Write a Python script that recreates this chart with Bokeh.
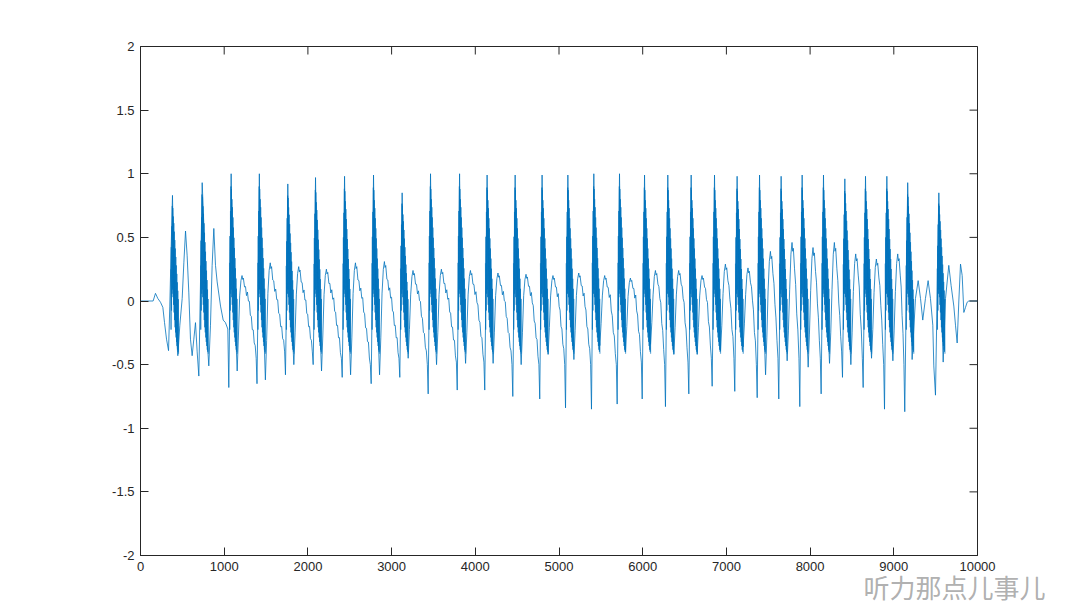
import numpy as np
from bokeh.plotting import figure
from bokeh.models import FixedTicker, NumeralTickFormatter, Range1d, Title
from bokeh.embed import file_html
from bokeh.resources import INLINE

# ---------------- data ----------------
# irregular onset (sample index, amplitude)
lead_x = [0, 151, 179, 207, 239, 267, 287, 311, 335, 350, 366, 382, 390, 398, 418,
          446, 470, 498, 518, 538, 557, 577, 597, 617, 637, 657, 677, 697, 717, 737,
          757, 776, 796, 816, 836, 856, 876, 896, 916, 956, 988, 1015, 1043]
lead_y = [0.0, 0.0, 0.06, 0.02, -0.01, -0.05, -0.17, -0.30, -0.39, -0.04, 0.41, 0.83,
          0.54, 0.20, -0.17, -0.43, -0.19, 0.02, 0.30, 0.55, 0.36, 0.07, -0.30, -0.43,
          -0.30, -0.17, -0.40, -0.59, 0.15, 0.93, 0.59, 0.07, -0.30, -0.51, -0.19, 0.28,
          0.57, 0.28, 0.15, -0.04, -0.15, -0.17, -0.22]
lead_spike_x = [382, 737]
lead_spike_y = [0.83, 0.93]

# regular pitch periods: position of the deep trough that starts each period
trough_x = [1055, 1392, 1732, 2063, 2410, 2756, 3098, 3437, 3784, 4113, 4448, 4770,
            5078, 5388, 5695, 5994, 6272, 6551, 6830, 7100, 7368, 7626, 7877, 8132,
            8387, 8634, 8889]
trough_y = [-0.68, -0.65, -0.58, -0.50, -0.60, -0.65, -0.60, -0.73, -0.70, -0.70,
            -0.75, -0.77, -0.84, -0.85, -0.81, -0.77, -0.83, -0.73, -0.67, -0.71,
            -0.76, -0.77, -0.83, -0.73, -0.60, -0.68, -0.85]
peak_y = [1.00, 1.00, 0.92, 0.97, 0.98, 0.99, 0.85, 1.00, 1.00, 0.99, 0.99, 0.99,
          0.99, 1.00, 1.00, 0.99, 0.99, 0.99, 0.99, 0.98, 0.99, 0.98, 0.99, 0.99,
          0.96, 0.98, 0.98]
dip_y = [-0.55, -0.62, -0.50, -0.55, -0.58, -0.58, -0.45, -0.50, -0.49, -0.49,
         -0.50, -0.42, -0.46, -0.35, -0.40, -0.34, -0.42, -0.42, -0.39, -0.36,
         -0.58, -0.47, -0.52, -0.49, -0.50, -0.45, -0.47]
bump_y = [0.20, 0.30, 0.27, 0.25, 0.30, 0.31, 0.24, 0.25, 0.24, 0.22, 0.21, 0.20,
          0.22, 0.20, 0.18, 0.24, 0.24, 0.20, 0.29, 0.26, 0.39, 0.46, 0.42, 0.46,
          0.37, 0.33, 0.37]
late_y = [-0.45, -0.40, -0.40, -0.45, -0.50, -0.45, -0.50, -0.48, -0.48, -0.50,
          -0.50, -0.50, -0.50, -0.50, -0.48, -0.50, -0.48, -0.45, -0.45, -0.50,
          -0.45, -0.45, -0.45, -0.40, -0.45, -0.50, -0.50]

# decaying end of the utterance
tail_x = [9131, 9166, 9190, 9219, 9259, 9291, 9319, 9346, 9378, 9410, 9438, 9466,
          9478, 9498, 9538, 9562, 9590, 9618, 9657, 9685, 9717, 9737, 9757, 9777,
          9797, 9817, 9837, 9857, 9876, 9896, 10000]
tail_y = [-0.87, 0.93, 0.20, -0.46, 0.02, 0.16, 0.02, -0.15, 0.02, 0.16, 0.02, -0.19,
          -0.51, -0.74, 0.85, 0.15, -0.48, 0.02, 0.28, 0.12, -0.04, -0.19, -0.33, 0.00,
          0.29, 0.20, -0.09, -0.05, -0.01, 0.0, 0.0]
tail_spike_x = [9166, 9538]
tail_spike_y = [0.93, 0.85]

x_ticks = [0, 1000, 2000, 3000, 4000, 5000, 6000, 7000, 8000, 9000, 10000]
y_ticks = [-2, -1.5, -1, -0.5, 0, 0.5, 1, 1.5, 2]
watermark = "听力那点儿事儿"

# ---------------- build the waveform ----------------
xs, ys = list(lead_x), list(lead_y)
bounds = trough_x + [tail_x[0]]
spike_x, spike_y = list(lead_spike_x), list(lead_spike_y)
for i in range(len(trough_x)):
    T, N = bounds[i], bounds[i + 1]
    tr, pk, dp, bp, lt = trough_y[i], peak_y[i], dip_y[i], bump_y[i], late_y[i]
    seg = [(0, tr), (12, 0.0), (28, pk), (40, 0.4), (60, 0.1), (80, -0.2),
           (100, dp), (115, 0.5 * dp), (130, 0.2 * bp), (145, 0.8 * bp), (158, bp),
           (166, 0.85 * bp), (174, 0.9 * bp), (188, 0.55 * bp)]
    end = N - T - 10
    L = end - 188
    key_o = [188, 188 + 0.35 * L, 188 + 0.6 * L, 188 + 0.85 * L, end]
    key_v = [0.55 * bp, 0.1 * bp, 0.35 * lt, 0.7 * lt, lt]
    # fine ripple along the slow decline
    n = max(int(L // 11), 3)
    for k in range(1, n):
        o = 188 + L * k / n
        v = float(np.interp(o, key_o, key_v)) + (0.025 if k % 2 else -0.025)
        seg.append((o, v))
    seg.append((end, lt))
    for o, v in seg:
        xs.append(T + o); ys.append(v)
    spike_x.append(T + 28); spike_y.append(pk)
xs += tail_x; ys += tail_y
spike_x += tail_spike_x; spike_y += tail_spike_y

# dense oscillation band around each glottal pulse
band_off = [-20, -10, -3, 0, 5, 15, 30, 45, 60, 75]
band_up = [0.30, 0.65, 0.85, 1.00, 0.85, 0.75, 0.55, 0.35, 0.15, -0.05]
band_lo = [-0.30, -0.05, 0.10, 0.10, 0.05, -0.05, -0.20, -0.30, -0.38, -0.42]
bxs, bys = [], []
for sx, sy in zip(spike_x, spike_y):
    t = np.arange(-20, 76, 3)
    up = np.interp(t, band_off, band_up) * sy
    lo = np.interp(t, band_off, band_lo)
    v = np.where(np.arange(len(t)) % 2 == 0, up, lo)
    bxs.append(list(sx + t)); bys.append(list(v))

# ---------------- figure ----------------
W, H = 1078, 606
p = figure(width=W, height=H, x_range=Range1d(0, 10000), y_range=Range1d(-2, 2),
           output_backend="svg", toolbar_location=None,
           min_border_left=140, min_border_right=W - 977, min_border_top=46,
           min_border_bottom=H - 555)
p.background_fill_color = "white"
p.border_fill_color = "white"
p.outline_line_color = "#262626"
p.outline_line_width = 1
p.grid.visible = False

col = "#0072BD"
p.line(xs, ys, line_color=col, line_width=0.8)
p.multi_line(bxs, bys, line_color=col, line_width=0.7)

# inward ticks on the top and right edges of the box
tick_len_y = 8 * 4.0 / 509
tick_len_x = 8 * 10000.0 / 837
p.segment(x0=x_ticks, y0=[2] * len(x_ticks), x1=x_ticks,
          y1=[2 - tick_len_y] * len(x_ticks), line_color="#262626", line_width=1)
p.segment(x0=[10000] * len(y_ticks), y0=y_ticks, x1=[10000 - tick_len_x] * len(y_ticks),
          y1=y_ticks, line_color="#262626", line_width=1)

font = "Liberation Sans"
ax = p.xaxis[0]
ax.ticker = FixedTicker(ticks=x_ticks)
ax.formatter = NumeralTickFormatter(format="0")
ax.major_label_standoff = 6
ay = p.yaxis[0]
ay.ticker = FixedTicker(ticks=y_ticks)
ay.formatter = NumeralTickFormatter(format="0.[0]")
ay.major_label_standoff = 6
for a in [ax, ay]:
    a.axis_line_color = "#262626"
    a.axis_line_width = 1
    a.major_tick_line_color = "#262626"
    a.major_tick_in = 8
    a.major_tick_out = 0
    a.minor_tick_line_color = None
    a.major_label_text_font = font
    a.major_label_text_color = "#262626"
    a.major_label_text_font_size = "13px"

# watermark at the bottom right, below the x tick labels
wm = Title(text=watermark, align="right", offset=-68, standoff=0,
           text_font="Liberation Sans, Noto Sans CJK SC", text_font_size="26px",
           text_font_style="normal", text_color="#a6a6a6", text_alpha=0.9,
           vertical_align="top")
p.add_layout(wm, "below")

open("out.html", "w").write(file_html(p, INLINE))
